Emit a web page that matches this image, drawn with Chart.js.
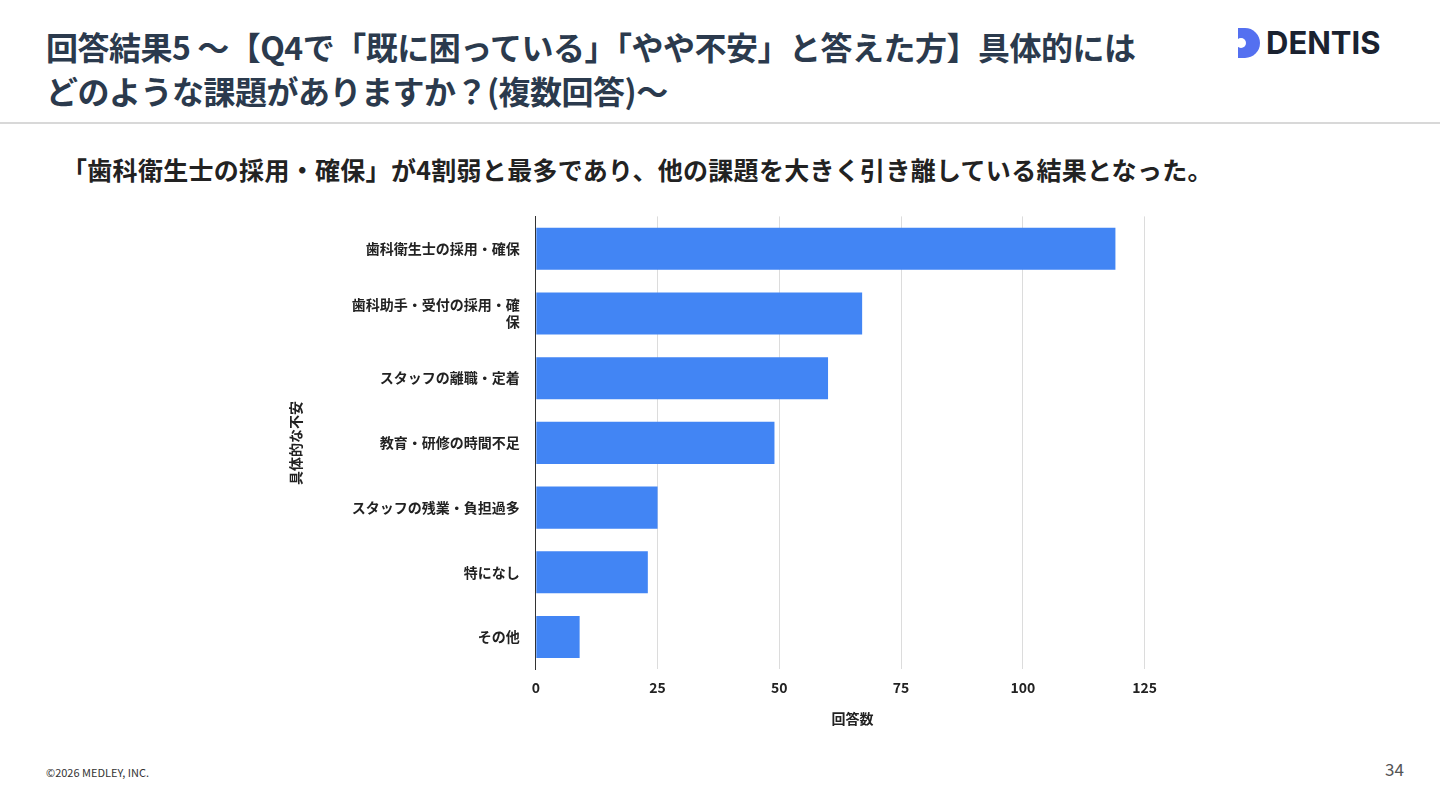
<!DOCTYPE html>
<html><head><meta charset="utf-8">
<script src="https://cdn.jsdelivr.net/npm/chart.js@4/dist/chart.umd.min.js"></script>
<style>
body{margin:0;width:1440px;height:810px;background:#fff;font-family:"Noto Sans CJK JP","Noto Sans",sans-serif;position:relative;overflow:hidden}
#title{position:absolute;left:46px;top:24px;font-size:32px;font-weight:bold;color:#2b3a4d;line-height:44px;letter-spacing:-0.5px}
#rule{position:absolute;left:0;top:122px;width:1440px;height:2px;background:#d8d8d8}
#sub{position:absolute;left:62px;top:151px;font-size:25px;font-weight:bold;color:#222;letter-spacing:0.3px}
#logo{position:absolute;left:1238px;top:24px;font-size:31px;font-weight:bold;color:#1a2230;font-family:Inter,sans-serif;display:flex;align-items:center}
#logo .d{width:22px;height:30px;background:#5470f0;border-radius:0 15px 15px 0;margin-right:6px;position:relative}
#logo .d:before{content:"";position:absolute;left:-2px;top:10px;width:10px;height:10px;border-radius:5px;background:#fff}
#copy{position:absolute;left:46px;top:764px;font-size:11px;color:#333}
#page{position:absolute;left:1385px;top:756px;font-size:17px;color:#555}
#wrap{position:absolute;left:283px;top:200px;width:886px;height:531px}
</style></head><body>
<div id="title">回答結果5 ～【Q4で「既に困っている」「やや不安」と答えた方】具体的には<br>どのような課題がありますか？(複数回答)～</div>
<div id="logo"><span class="d"></span>DENTIS</div>
<div id="rule"></div>
<div id="sub">「歯科衛生士の採用・確保」が4割弱と最多であり、他の課題を大きく引き離している結果となった。</div>
<div id="wrap"><canvas id="c"></canvas></div>
<div id="copy">©2026 MEDLEY, INC.</div>
<div id="page">34</div>
<script>
const categories = ['歯科衛生士の採用・確保', ['歯科助手・受付の採用・確', '保'], 'スタッフの離職・定着', '教育・研修の時間不足', 'スタッフの残業・負担過多', '特になし', 'その他'];
const counts = [119, 67, 60, 49, 25, 23, 9];
const tickValues = [0, 25, 50, 75, 100, 125];

Chart.defaults.font.family = '"Noto Sans CJK JP", sans-serif';
new Chart(document.getElementById('c'), {
    type: 'bar',
    data: {
        labels: categories,
        datasets: [{
            data: counts,
            backgroundColor: '#4285f4',
            categoryPercentage: 0.65,
            barPercentage: 1
        }]
    },
    options: {
        indexAxis: 'y',
        responsive: true,
        maintainAspectRatio: false,
        animation: false,
        layout: { padding: { top: 15 } },
        plugins: { legend: { display: false }, tooltip: { enabled: false } },
        scales: {
            x: {
                min: 0, max: 130,
                afterBuildTicks: axis => { axis.ticks = tickValues.map(v => ({ value: v })); },
                grid: { color: '#dcdcdc', drawTicks: false },
                border: { display: false },
                ticks: { color: '#222', font: { size: 14, weight: 'bold' }, padding: 10 },
                title: { display: true, text: '回答数', color: '#222', font: { size: 14, weight: 'bold' }, padding: { top: 4 } }
            },
            y: {
                grid: { display: false },
                border: { color: '#333' },
                ticks: { color: '#222', font: { size: 14, weight: 'bold' }, padding: 8 },
                title: { display: true, text: '具体的な不安', color: '#222', font: { size: 14, weight: 'bold' }, padding: { bottom: 40 } }
            }
        }
    }
});
</script>
</body></html>
